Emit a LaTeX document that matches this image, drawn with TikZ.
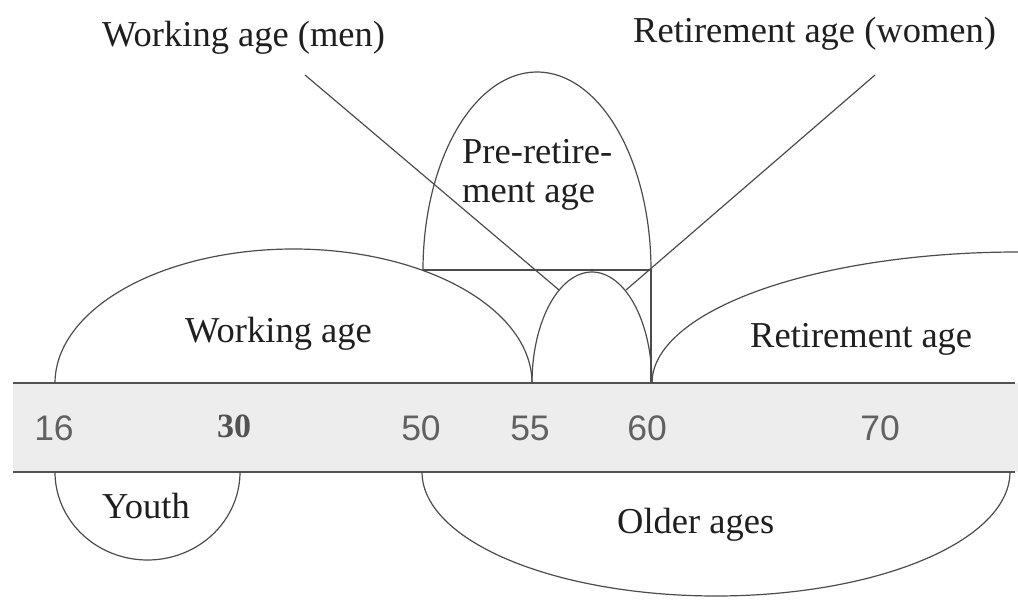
\documentclass[tikz,border=0pt]{standalone}
\usepackage{fontspec}
\setmainfont{Liberation Serif}
\newfontfamily\numfont{Liberation Sans}
\begin{document}
\begin{tikzpicture}[x=1pt,y=-1pt,
  outline/.style={draw=black!70,line width=1.2pt},
  bandline/.style={draw=black!68,line width=2.6pt},
  lbl/.style={inner sep=0pt,anchor=base west,font=\fontsize{36.5}{40}\selectfont,text=black!88},
  agenum/.style={inner sep=0pt,anchor=base,font=\numfont\fontsize{35.5}{38}\selectfont,text=black!62}]
\useasboundingbox (0,0) rectangle (1018,602);

% age scale band
\fill[black!7] (13,383) rectangle (1018,472);
\draw[bandline] (13,383) -- (1015,383);
\draw[bandline] (13,472) -- (1015,472);

% ages on the scale
\node[agenum] (a16) at (54,440) {16};
\node[inner sep=0pt,anchor=base,font=\bfseries\fontsize{34}{36}\selectfont,text=black!68] (a30) at (234,437) {30};
\node[agenum] (a50) at (421,440) {50};
\node[agenum] (a55) at (530,440) {55};
\node[agenum] (a60) at (647,440) {60};
\node[agenum] (a70) at (880,440) {70};

% working age
\draw[outline] plot[domain=180:0,samples=90,smooth] ({293.5+238.5*cos(\x)},{383-134*sin(\x)});
% overlap between 55 and 60
\draw[outline] plot[domain=180:0,samples=60,smooth] ({592+60*cos(\x)},{383-111*sin(\x)});
% pre-retirement age
\draw[outline] plot[domain=180:0,samples=90,smooth] ({537+114*cos(\x)},{270-198*sin(\x)});
\draw[outline] (423,270) -- (651,270) -- (651,383);
% retirement age
\draw[outline] plot[domain=180:90,samples=90,smooth] ({1018+366*cos(\x)},{383-131*sin(\x)});
% youth and older ages below the scale
\draw[outline] plot[domain=180:360,samples=60,smooth] ({147.5+92.5*cos(\x)},{472-88*sin(\x)});
\draw[outline] plot[domain=180:360,samples=90,smooth] ({716+294*cos(\x)},{472-124*sin(\x)});

% labels
\node[lbl] (men) at (102,47) {Working age (men)};
\node[lbl] (women) at (633,43) {Retirement age (women)};
\node[lbl] (pre1) at (462,163) {Pre-retire-};
\node[lbl] (pre2) at (462,202) {ment age};
\node[lbl] (work) at (185,342) {Working age};
\node[lbl] (ret) at (750,347) {Retirement age};
\node[lbl] (youth) at (102,518) {Youth};
\node[lbl] (older) at (617,533) {Older ages};

% pointers from the top labels
\coordinate (menstart) at (305,75);
\coordinate (menend) at (559,290);
\coordinate (womenstart) at (875,75);
\coordinate (womenend) at (626,290);
\draw[outline] (menstart) -- (menend);
\draw[outline] (womenstart) -- (womenend);
\end{tikzpicture}
\end{document}
